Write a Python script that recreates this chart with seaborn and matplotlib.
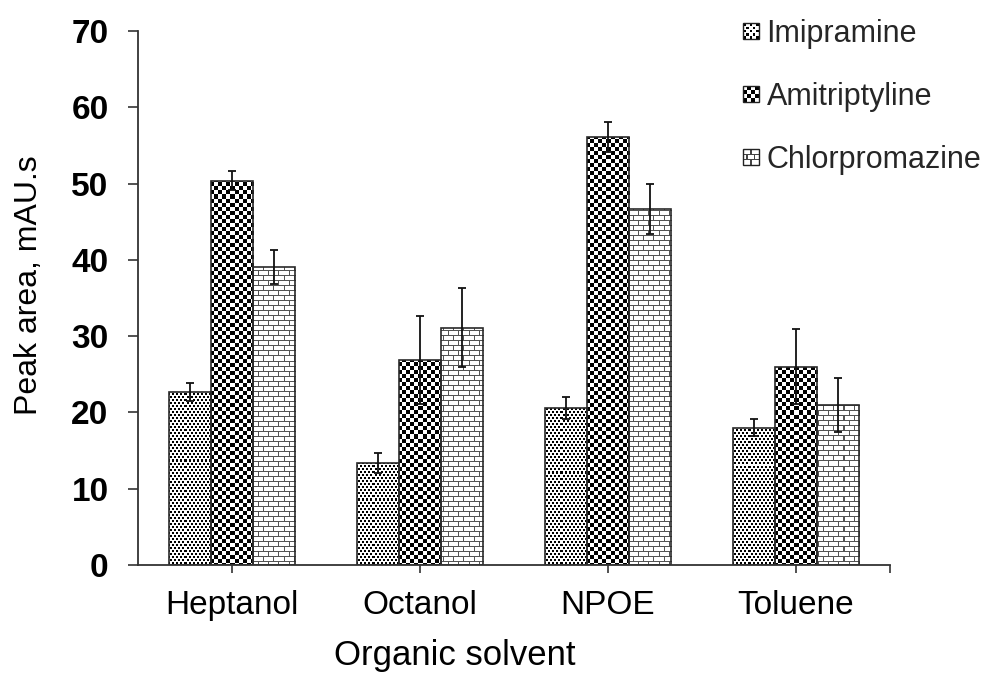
import numpy as np
import pandas as pd
import matplotlib
matplotlib.use("Agg")
import matplotlib.pyplot as plt
import matplotlib.patches as mpatches
from matplotlib.legend_handler import HandlerBase
import seaborn as sns

# ---------------- data ----------------
solvents = ["Heptanol", "Octanol", "NPOE", "Toluene"]
drugs = ["Imipramine", "Amitriptyline", "Chlorpromazine"]
imipramine = [22.7, 13.4, 20.6, 18.0]
imipramine_err = [1.2, 1.3, 1.4, 1.1]
amitriptyline = [50.4, 26.9, 56.1, 26.0]
amitriptyline_err = [1.2, 5.8, 2.0, 4.9]
chlorpromazine = [39.1, 31.1, 46.7, 21.0]
chlorpromazine_err = [2.2, 5.2, 3.3, 3.5]
yticks = [0, 10, 20, 30, 40, 50, 60, 70]
xlabel = "Organic solvent"
ylabel = "Peak area, mAU.s"

values = {"Imipramine": imipramine, "Amitriptyline": amitriptyline, "Chlorpromazine": chlorpromazine}
errors = {"Imipramine": imipramine_err, "Amitriptyline": amitriptyline_err, "Chlorpromazine": chlorpromazine_err}
df = pd.DataFrame([{"solvent": s, "drug": d, "area": values[d][i]}
                   for d in drugs for i, s in enumerate(solvents)])

sns.set_theme(style="white")
plt.rcParams["font.family"] = ["Liberation Sans", "DejaVu Sans"]

W_PX, H_PX = 991, 690
fig = plt.figure(figsize=(W_PX / 100, H_PX / 100), dpi=100)
fig.patch.set_facecolor("white")
ax_l, ax_r, ax_t, ax_b = 138, 890, 31, 565
ax = fig.add_axes([ax_l / W_PX, (H_PX - ax_b) / H_PX, (ax_r - ax_l) / W_PX, (ax_b - ax_t) / H_PX])
ax.set_facecolor("white")

sns.barplot(data=df, x="solvent", y="area", hue="drug", order=solvents, hue_order=drugs,
            palette=["white"] * 3, edgecolor="#2a2a2a", linewidth=1.2, width=0.672,
            errorbar=None, ax=ax, legend=False, saturation=1)

# ---------------- fill patterns (pixel-scale images clipped to bars) ----------------
PH, PW = ax_b - ax_t, ax_r - ax_l
yy, xx = np.mgrid[0:PH, 0:PW]


def make_img(mask, color):
    img = np.ones((PH, PW, 3))
    img[mask] = color
    return img


dots_mask = (((yy % 6) < 2) & ((xx % 4) < 2)) | (((yy % 6) >= 3) & ((yy % 6) < 5) & (((xx + 2) % 4) < 2))
checker_mask = ((xx // 4) + (yy // 4)) % 2 == 0
row = yy // 5
brick_mask = ((yy % 5) == 0) | (((xx + (row % 2) * 5) % 10) == 0)
pattern_imgs = {
    "Imipramine": make_img(dots_mask, (0, 0, 0)),
    "Amitriptyline": make_img(checker_mask, (0, 0, 0)),
    "Chlorpromazine": make_img(brick_mask, (0.33, 0.33, 0.33)),
}

XLIM = (-0.5, 3.5)
YLIM = (0, 70)
for d, cont in zip(drugs, ax.containers):
    for patch in cont.patches:
        patch.set_facecolor("none")
        patch.set_zorder(2)
        im = ax.imshow(pattern_imgs[d], extent=(XLIM[0], XLIM[1], YLIM[0], YLIM[1]),
                       aspect="auto", interpolation="nearest", zorder=1.5, origin="upper")
        im.set_clip_path(patch)

# ---------------- error bars ----------------
for d, cont in zip(drugs, ax.containers):
    xs = [p.get_x() + p.get_width() / 2 for p in cont.patches]
    ax.errorbar(xs, values[d], yerr=errors[d], fmt="none", ecolor="#111111",
                elinewidth=1.3, capsize=2.9, capthick=1.3, zorder=3)

ax.set_xlim(*XLIM)
ax.set_ylim(*YLIM)
ax.set_yticks(yticks)
ax.set_yticklabels([str(t) for t in yticks], fontsize=24, fontweight="bold", color="black")
ax.set_xticks(range(len(solvents)))
ax.set_xticklabels(solvents, fontsize=24, color="black")
ax.set_xticks([3.5], minor=True)

for s in ["top", "right"]:
    ax.spines[s].set_visible(False)
for s in ["left", "bottom"]:
    ax.spines[s].set_color("#333333")
    ax.spines[s].set_linewidth(1.3)

ax.tick_params(axis="y", which="major", direction="out", length=7.2, width=1.2,
               color="#333333", pad=14, left=True)
ax.tick_params(axis="x", which="major", direction="out", length=5.8, width=1.2,
               color="#333333", pad=12.5, bottom=True)
ax.tick_params(axis="x", which="minor", direction="out", length=5.8, width=1.2,
               color="#333333", bottom=True)

ax.set_xlabel(xlabel, fontsize=25, color="black")
ax.xaxis.set_label_coords((455 - ax_l) / PW, -0.139)
ax.set_ylabel(ylabel, fontsize=23, color="black")
ax.yaxis.set_label_coords(-0.125, 0.524)


# ---------------- legend with pattern keys ----------------
class PatternHandler(HandlerBase):
    def __init__(self, kind):
        super().__init__()
        self.kind = kind

    def create_artists(self, legend, orig_handle, xdescent, ydescent, width, height, fontsize, trans):
        x0, y0 = -xdescent, -ydescent
        s = min(width, height)
        y0 = y0 + (height - s) / 2
        arts = [mpatches.Rectangle((x0, y0), s, s, facecolor="white", edgecolor="none", transform=trans)]
        if self.kind == "checker":
            n = 4
            c = s / n
            for i in range(n):
                for j in range(n):
                    if (i + j) % 2 == 0:
                        arts.append(mpatches.Rectangle((x0 + i * c, y0 + j * c), c, c, facecolor="black",
                                                       edgecolor="none", transform=trans))
        elif self.kind == "dots":
            n = 5
            c = s / n
            for j in range(n):
                for i in range(n):
                    if (i + j) % 2 == 0:
                        arts.append(mpatches.Rectangle((x0 + i * c + c * 0.1, y0 + j * c + c * 0.1), c * 0.8, c * 0.8,
                                                       facecolor="black", edgecolor="none", transform=trans))
        elif self.kind == "bricks":
            nrow = 3
            rh = s / nrow
            for r in range(1, nrow):
                arts.append(mpatches.Rectangle((x0, y0 + r * rh - 0.4), s, 0.8, facecolor="#444444",
                                               edgecolor="none", transform=trans))
            for r in range(nrow):
                offs = [0.5] if r % 2 == 0 else [0.25, 0.75]
                for o in offs:
                    arts.append(mpatches.Rectangle((x0 + o * s - 0.4, y0 + r * rh), 0.8, rh, facecolor="#444444",
                                                   edgecolor="none", transform=trans))
        arts.append(mpatches.Rectangle((x0, y0), s, s, facecolor="none", edgecolor="#222222",
                                       linewidth=1.0, transform=trans))
        return arts


handles = [mpatches.Patch(label=d) for d in drugs]
kinds = ["dots", "checker", "bricks"]
hmap = {h: PatternHandler(k) for h, k in zip(handles, kinds)}
fig.legend(handles=handles, labels=drugs, handler_map=hmap, loc="upper left",
           bbox_to_anchor=(743 / W_PX, 1 - 19 / H_PX), frameon=False, fontsize=22,
           handlelength=0.52, handleheight=0.52, handletextpad=0.25, labelspacing=1.08,
           borderpad=0, borderaxespad=0)

fig.savefig("out.png", dpi=100, facecolor="white")
